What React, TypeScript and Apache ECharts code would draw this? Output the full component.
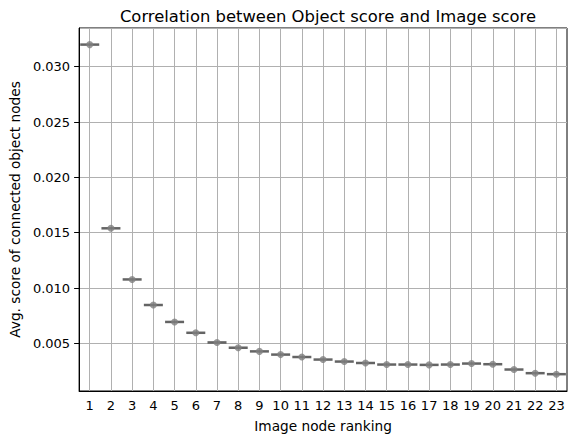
import React, { useEffect, useRef } from "react";
import * as echarts from "echarts";

const categories = ["1","2","3","4","5","6","7","8","9","10","11","12","13","14","15","16","17","18","19","20","21","22","23"];
const avgScores = [0.0320, 0.0154, 0.01078, 0.00847, 0.00694, 0.00596, 0.00509, 0.00461, 0.00428, 0.00399, 0.00377, 0.00354, 0.00336, 0.00323, 0.00309, 0.00309, 0.00306, 0.00309, 0.00318, 0.00312, 0.00264, 0.00231, 0.00222];

const FONT = "DejaVu Sans";

export default function App() {
  const ref = useRef<HTMLDivElement>(null);
  useEffect(() => {
    if (!ref.current) return;
    const chart = echarts.init(ref.current, null, { renderer: "svg" });
    chart.setOption({
      animation: false,
      backgroundColor: "#ffffff",
      title: {
        text: "Correlation between Object score and Image score",
        left: 323,
        top: 3,
        textAlign: "center",
        textStyle: { fontFamily: FONT, fontSize: 16.4, fontWeight: "normal", color: "#000" },
      },
      grid: {
        left: 78, right: 1, top: 28, bottom: 44,
        show: true, borderColor: "#000", borderWidth: 1, backgroundColor: "transparent",
      },
      xAxis: {
        type: "category",
        data: categories,
        boundaryGap: true,
        name: "Image node ranking",
        nameLocation: "middle",
        nameGap: 28,
        nameTextStyle: { fontFamily: FONT, fontSize: 13.7, color: "#000" },
        axisLine: { lineStyle: { color: "#000", width: 1 } },
        axisTick: { alignWithLabel: true, length: 5, lineStyle: { color: "#000" } },
        axisLabel: { fontFamily: FONT, fontSize: 13, color: "#000", margin: 8, interval: 0 },
        splitLine: { show: true, alignWithLabel: true, interval: 0, lineStyle: { color: "#b0b0b0", width: 1 } },
      },
      yAxis: {
        type: "value",
        min: 0.0007,
        max: 0.0335,
        splitNumber: 6,
        name: "Avg. score of connected object nodes",
        nameLocation: "middle",
        nameGap: 55,
        nameTextStyle: { fontFamily: FONT, fontSize: 13.7, color: "#000" },
        axisLine: { show: true, lineStyle: { color: "#000", width: 1 } },
        axisTick: { show: true, length: 5, lineStyle: { color: "#000" } },
        axisLabel: {
          fontFamily: FONT, fontSize: 13, color: "#000", margin: 9,
          showMinLabel: false, showMaxLabel: false,
          formatter: (v: number) => v.toFixed(3),
        },
        splitLine: { show: true, lineStyle: { color: "#b0b0b0", width: 1 } },
      },
      series: [
        {
          type: "scatter",
          data: avgScores,
          symbol: "rect",
          symbolSize: [19, 2.5],
          itemStyle: { color: "#3d3d3d" },
          z: 3,
        },
        {
          type: "scatter",
          data: avgScores,
          symbol: "circle",
          symbolSize: 7,
          itemStyle: { color: "#808080" },
          z: 4,
        },
      ],
    });
    return () => chart.dispose();
  }, []);
  return <div ref={ref} style={{ position: "fixed", left: 0, top: 0, width: 568, height: 438 }} />;
}
